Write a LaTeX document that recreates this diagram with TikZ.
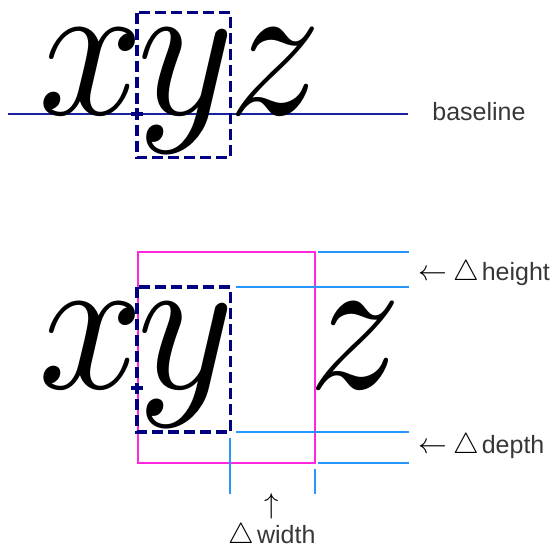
\documentclass[tikz,border=0pt]{standalone}
\usepackage{fontspec}
\newfontfamily\labelfont{Liberation Sans}
\newcommand\symsize{\fontsize{14.4}{16}\selectfont}
\definecolor{boxblue}{RGB}{0,0,128}
\definecolor{baseblue}{RGB}{25,35,160}
\definecolor{lineblue}{RGB}{40,150,255}
\definecolor{padpink}{RGB}{255,40,220}
\definecolor{labelgray}{RGB}{55,55,55}
\tikzset{
  glyph/.style={anchor=base west, inner sep=0pt, outer sep=0pt, xscale=9.2, yscale=9.9},
  charbox/.style={draw=boxblue, line width=1.6pt, dash pattern=on 5.5pt off 2.5pt},
  refmark/.style={boxblue, line width=1.8pt},
  guide/.style={lineblue, line width=1pt},
  padbox/.style={draw=padpink, line width=1pt},
  tag/.style={font=\labelfont\fontsize{12.5}{15}\selectfont, text=labelgray, inner sep=0pt},
}
\begin{document}
\begin{tikzpicture}[x=0.5pt, y=-0.5pt]
  \useasboundingbox (0,0) rectangle (556,552);

  % --- TOP: plain box of y on the baseline ---
  \draw[baseblue, line width=0.8pt] (8,114) -- (408,114);
  \node[glyph] (x1) at (38,114) {$x$};
  \node[glyph] (y1) at (137,114) {$y$};
  \node[glyph] (z1) at (228,114) {$z$};
  \draw[charbox] (137,12.5) rectangle (230.5,157.5);
  \draw[refmark] (131,114) -- (143,114) (137,108) -- (137,120);
  \node[tag, anchor=base west] (bltag) at (432,120) {baseline};

  % --- BOTTOM: same box, padded ---
  \node[glyph] (x2) at (38,388) {$x$};
  \node[glyph] (y2) at (137,388) {$y$};
  \node[glyph] (z2) at (308,388) {$z$};
  \draw[padbox] (138,252) rectangle (315,463);
  \draw[charbox] (137,287) rectangle (230.5,432);
  \draw[refmark] (131,388) -- (143,388) (137,383) -- (137,393);

  % guide lines
  \draw[guide] (318,252) -- (409,252);
  \draw[guide] (236,287) -- (409,287);
  \draw[guide] (236,432) -- (409,432);
  \draw[guide] (318,463) -- (409,463);
  \draw[guide] (230,438) -- (230,494);
  \draw[guide] (315,469) -- (315,494);

  % labels
  \node[tag, anchor=base west] (htag) at (418,280)
    {{\symsize\color{black}$\leftarrow$}\hspace{3pt}{\symsize\color{black}$\triangle$}\hspace{1.5pt}height};
  \node[tag, anchor=base west] (dtag) at (418,453)
    {{\symsize\color{black}$\leftarrow$}\hspace{3pt}{\symsize\color{black}$\triangle$}\hspace{1.5pt}depth};
  \node[tag, anchor=north, align=center] (wtag) at (272,493)
    {{\symsize\color{black}$\uparrow$}\\[0pt]{\symsize\color{black}$\triangle$}\hspace{1.5pt}width};
\end{tikzpicture}
\end{document}
